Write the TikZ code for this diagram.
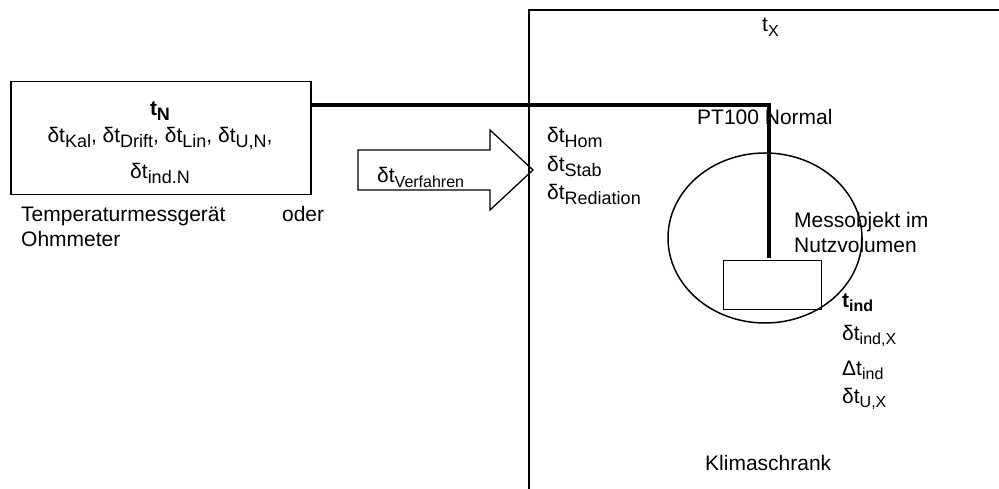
\documentclass[tikz,border=0pt]{standalone}
\usepackage{fontspec}
\setmainfont{Liberation Sans}
\usetikzlibrary{positioning, calc}

\newcommand{\lowtx}[2][16]{\raisebox{-0.2em}{\fontsize{#1}{#1}\selectfont #2}}

\tikzset{
  lbl/.style={inner sep=0pt, anchor=base west, font=\fontsize{21}{25}\selectfont},
  frame/.style={line width=1.5pt},
  probe/.style={line width=3.5pt},
}

\begin{document}
\begin{tikzpicture}[x=1pt, y=-1pt]
    \useasboundingbox (0,0) rectangle (999,489);
    % Temperaturmessgeraet
    \node[draw, frame, minimum width=300pt, minimum height=113pt, anchor=north west] (gauge) at (10,81) {};
    \node[lbl, anchor=base] (tN) at (160,116) {\textbf{t\lowtx[18]{N}}};
    \node[lbl, anchor=base] (nlist) at (160,143) {δt\lowtx[18]{Kal}, δt\lowtx[18]{Drift}, δt\lowtx[18]{Lin}, δt\lowtx[18]{U,N},};
    \node[lbl, anchor=base] (nind) at (160,179) {δt\lowtx[18]{ind.N}};
    \node[lbl, text width=303pt, align=left] (gname) at (21,222) {Temperaturmessgerät\hfill oder\\Ohmmeter};
    % Klimaschrank
    \draw[frame] (529,489) -- (529,10) -- (999,10);
    \node[lbl] (tX) at (762,32) {t\lowtx{X}};
    \foreach \y/\txt [count=\i] in {143/Hom, 172/Stab, 200/Rediation} {
        \node[lbl] (hom\i) at (547,\y) {δt\lowtx[18]{\txt}};
      }
    \node[lbl] (klima) at (705,470) {Klimaschrank};
    % Verfahren
    \draw[line width=1.3pt, line join=miter] (358,150) -- (490,150) -- (490,130) -- (533,170)
      -- (490,210) -- (490,190) -- (358,190) -- cycle;
    \node[lbl] (verf) at (377,183) {δt\lowtx{Verfahren}};
    % Nutzvolumen und Messobjekt
    \draw[frame] (765,238) ellipse [x radius=97pt, y radius=85pt];
    \node[draw, line width=1.3pt, minimum width=98pt, minimum height=49pt, anchor=north west] (dut) at (723,260) {};
    \node[lbl] (mess1) at (794,228) {Messobjekt im};
    \node[lbl] (mess2) at (794,253) {Nutzvolumen};
    \node[lbl] (pt) at (697,125) {PT100 Normal};
    \coordinate (bend) at (769,105);
    \draw[probe] (gauge.east |- bend) -- (bend) -- ($(dut.north -| bend)+(0,-2)$);
    \foreach \y/\txt [count=\i] in {307/{\textbf{t\lowtx{ind}}}, 340/{δt\lowtx{ind,X}}, 375/{Δt\lowtx{ind}}, 403/{δt\lowtx{U,X}}} {
        \node[lbl] (ind\i) at (842,\y) {\txt};
      }
  \end{tikzpicture}
\end{document}
